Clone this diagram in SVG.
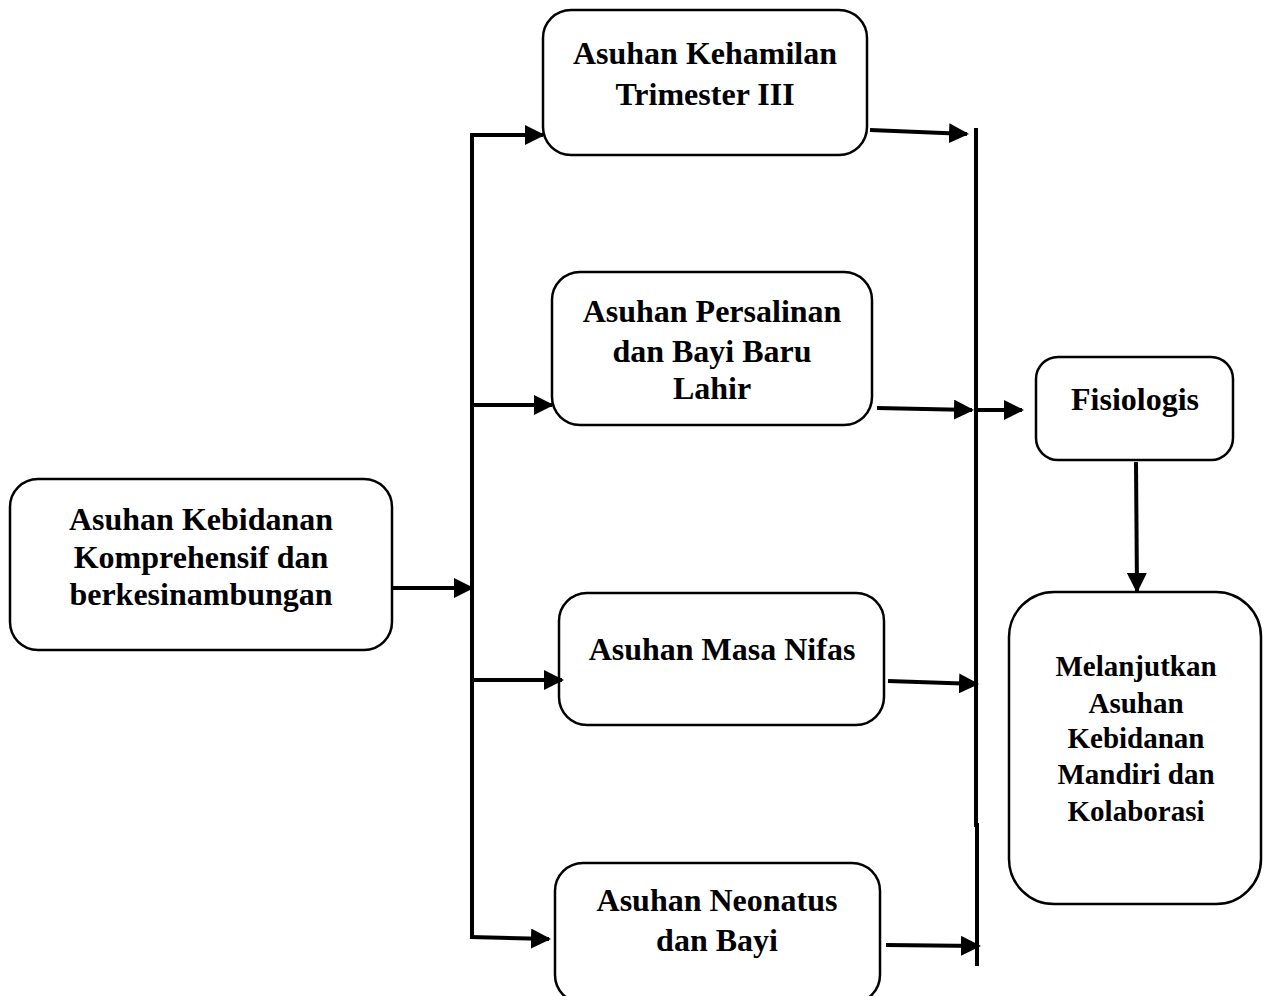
<svg xmlns="http://www.w3.org/2000/svg" width="1271" height="996" viewBox="0 0 1271 996">
<style>
.box{fill:#fff;stroke:#000;stroke-width:2.5}
.t{font-family:"Liberation Serif","Times New Roman",serif;font-weight:bold;font-size:32px;text-anchor:middle;fill:#000}
.s{font-size:29px}
.c{fill:none;stroke:#000;stroke-width:4}
.a{fill:none;stroke:#000;stroke-width:4;marker-end:url(#ah)}
</style>
<defs>
<marker id="ah" markerWidth="5" markerHeight="5" refX="4.5" refY="2.5" orient="auto" markerUnits="strokeWidth">
<path d="M0,0 L5,2.5 L0,5 Z" fill="#000"/>
</marker>
</defs>
<rect width="1271" height="996" fill="#fff"/>
<g id="n-kebidanan">
<rect class="box" x="10" y="479" width="382" height="171" rx="28"/>
<text class="t" x="201" y="530">Asuhan Kebidanan</text>
<text class="t" x="201" y="568">Komprehensif dan</text>
<text class="t" x="201" y="605">berkesinambungan</text>
</g>
<g id="n-kehamilan">
<rect class="box" x="543" y="10" width="324" height="145" rx="28"/>
<text class="t" x="705" y="64">Asuhan Kehamilan</text>
<text class="t" x="705" y="105">Trimester III</text>
</g>
<g id="n-persalinan">
<rect class="box" x="552" y="272" width="320" height="153" rx="28"/>
<text class="t" x="712" y="322">Asuhan Persalinan</text>
<text class="t" x="712" y="362">dan Bayi Baru</text>
<text class="t" x="712" y="399">Lahir</text>
</g>
<g id="n-nifas">
<rect class="box" x="559" y="593" width="325" height="132" rx="28"/>
<text class="t" x="722" y="660">Asuhan Masa Nifas</text>
</g>
<g id="n-neonatus">
<rect class="box" x="555" y="863" width="325" height="140" rx="28"/>
<text class="t" x="717" y="911">Asuhan Neonatus</text>
<text class="t" x="717" y="951">dan Bayi</text>
</g>
<g id="n-fisiologis">
<rect class="box" x="1036" y="357" width="197" height="103" rx="22"/>
<text class="t" x="1135" y="410">Fisiologis</text>
</g>
<g id="n-melanjutkan">
<rect class="box" x="1009" y="592" width="252" height="312" rx="45"/>
<text class="t s" x="1136" y="676">Melanjutkan</text>
<text class="t s" x="1136" y="713">Asuhan</text>
<text class="t s" x="1136" y="748">Kebidanan</text>
<text class="t s" x="1136" y="784">Mandiri dan</text>
<text class="t s" x="1136" y="821">Kolaborasi</text>
</g>
<g id="connectors">
<line class="c" x1="472" y1="133" x2="472" y2="939"/>
<line class="a" x1="392" y1="588" x2="472" y2="588"/>
<line class="a" x1="470" y1="135" x2="543" y2="135"/>
<line class="a" x1="472" y1="405" x2="552" y2="405"/>
<line class="a" x1="472" y1="680" x2="562" y2="680"/>
<line class="a" x1="470" y1="937" x2="549" y2="939"/>
<polyline class="c" points="976,128 976,825 977,825 977,966"/>
<line class="a" x1="870" y1="130" x2="967" y2="134"/>
<line class="a" x1="877" y1="408" x2="972" y2="410"/>
<line class="a" x1="888" y1="681" x2="977" y2="684"/>
<line class="a" x1="886" y1="945" x2="979" y2="946"/>
<line class="a" x1="976" y1="410" x2="1022" y2="410"/>
<line class="a" x1="1136" y1="462" x2="1137" y2="591"/>
</g>
</svg>
